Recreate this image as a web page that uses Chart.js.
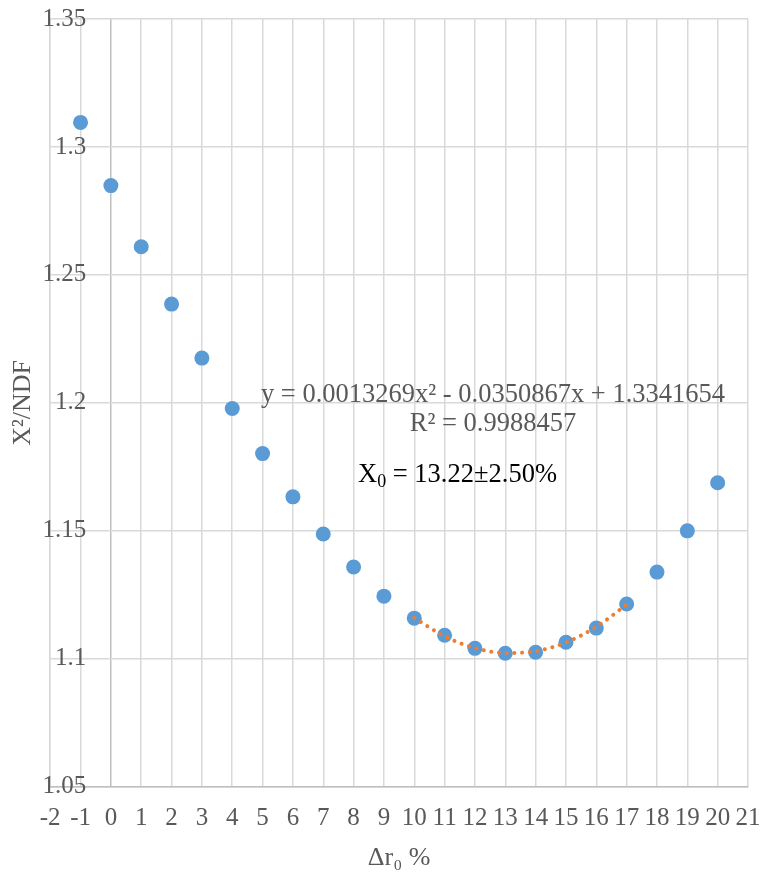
<!DOCTYPE html>
<html>
<head>
<meta charset="utf-8">
<script src="https://cdn.jsdelivr.net/npm/chart.js@4.4.1/dist/chart.umd.min.js"></script>
<style>
  html, body { margin: 0; padding: 0; background: #ffffff; }
  #wrap { width: 763px; height: 874px; }
</style>
</head>
<body>
<div id="wrap"><canvas id="chart"></canvas></div>
<script>
// --- data ---
const xValues = [-1, 0, 1, 2, 3, 4, 5, 6, 7, 8, 9, 10, 11, 12, 13, 14, 15, 16, 17, 18, 19, 20]
const chiValues = [1.3096, 1.2849, 1.2610, 1.2386, 1.2175, 1.1978, 1.1802, 1.1633, 1.1488, 1.1359, 1.1245,
                   1.1159, 1.1092, 1.1041, 1.1022, 1.1026, 1.1065, 1.1120, 1.1214, 1.1339, 1.1500, 1.1688]

// fitted trend line (Excel polynomial, shown from x = 10 to 17)
const trendX = [10, 11, 12, 13, 14, 15, 16, 17]
const trendY = [1.1160, 1.1088, 1.1042, 1.1023, 1.1030, 1.1064, 1.1125, 1.1212]

const xTicks = [-2, -1, 0, 1, 2, 3, 4, 5, 6, 7, 8, 9, 10, 11, 12, 13, 14, 15, 16, 17, 18, 19, 20, 21]
const xTickLabels = ["-2", "-1", "0", "1", "2", "3", "4", "5", "6", "7", "8", "9", "10",
                     "11", "12", "13", "14", "15", "16", "17", "18", "19", "20", "21"]
const yTicks = [1.05, 1.1, 1.15, 1.2, 1.25, 1.3, 1.35]
const yTickLabels = ["1.05", "1.1", "1.15", "1.2", "1.25", "1.3", "1.35"]

const fitText = "y = 0.0013269x\u00B2 - 0.0350867x + 1.3341654"
const r2Text = "R\u00B2 = 0.9988457"
const x0Value = " = 13.22\u00B12.50%"

const serif = "'Liberation Serif', 'Times New Roman', serif"
const gridColor = "#d9d9d9"
const axisColor = "#bfbfbf"
const textColor = "#595959"

// --- y tick labels sit inside the plot, right-aligned left of the x = 0 axis ---
const yLabels = {
    id: "yLabels",
    afterDatasetsDraw(chart) {
        const ctx = chart.ctx
        const y = chart.scales.y
        ctx.save()
        ctx.font = "25px " + serif
        ctx.fillStyle = textColor
        ctx.textAlign = "right"
        ctx.textBaseline = "middle"
        yTicks.forEach((v, i) => {
            ctx.fillText(yTickLabels[i], chart.chartArea.left + 36, y.getPixelForValue(v))
        })
        ctx.restore()
    }
}

// --- text boxes drawn on top of the plot ---
const annotations = {
    id: "annotations",
    afterDraw(chart) {
        const ctx = chart.ctx
        ctx.save()
        ctx.textBaseline = "middle"
        ctx.font = "26.5px " + serif
        ctx.fillStyle = textColor
        ctx.textAlign = "center"
        ctx.fillText(fitText, 493, 395)
        ctx.fillText(r2Text, 493, 424)

        // X0 label with a real subscript
        ctx.fillStyle = "#000000"
        ctx.textAlign = "left"
        let x = 358
        ctx.fillText("X", x, 475)
        x += ctx.measureText("X").width
        ctx.font = "18px " + serif
        ctx.fillText("0", x, 482)
        x += ctx.measureText("0").width
        ctx.font = "26.5px " + serif
        ctx.fillText(x0Value, x, 475)
        ctx.restore()
    }
}

const ctx = document.getElementById("chart")

new Chart(ctx, {
    type: "scatter",
    data: {
        datasets: [
            {
                label: "Trend",
                data: trendX.map((x, i) => ({ x: x, y: trendY[i] })),
                showLine: true,
                borderColor: "#ed7d31",
                borderWidth: 4,
                borderDash: [0.01, 7.7],
                borderCapStyle: "round",
                cubicInterpolationMode: "monotone",
                pointRadius: 0,
                order: 0
            },
            {
                label: "X2/NDF",
                data: xValues.map((x, i) => ({ x: x, y: chiValues[i] })),
                backgroundColor: "#5b9bd5",
                borderWidth: 0,
                pointRadius: 7.5,
                pointHoverRadius: 7.5,
                order: 1
            }
        ]
    },
    options: {
        responsive: true,
        maintainAspectRatio: false,
        animation: false,
        layout: { padding: { top: 19, right: 0, left: 0, bottom: 0 } },
        plugins: {
            legend: { display: false },
            tooltip: { enabled: false }
        },
        scales: {
            x: {
                type: "linear",
                min: -2,
                max: 21,
                afterBuildTicks: (axis) => { axis.ticks = xTicks.map(v => ({ value: v })) },
                ticks: {
                    padding: 2.5,
                    color: textColor,
                    font: { family: serif, size: 25, lineHeight: 2.36 },
                    maxRotation: 0,
                    autoSkip: false,
                    callback: (value) => xTickLabels[xTicks.indexOf(value)]
                },
                grid: {
                    drawTicks: false,
                    lineWidth: 1.5,
                    color: (c) => (c.tick && c.tick.value === 0) ? axisColor : gridColor
                },
                border: { color: axisColor, width: 1.5 },
                title: {
                    display: true,
                    text: "\u0394r\u2080 %",
                    color: textColor,
                    font: { family: serif, size: 26 },
                    padding: { top: -8, bottom: 0 }
                }
            },
            y: {
                type: "linear",
                min: 1.05,
                max: 1.35,
                afterBuildTicks: (axis) => { axis.ticks = yTicks.map(v => ({ value: v })) },
                ticks: { display: false },
                grid: {
                    drawTicks: false,
                    lineWidth: 1.5,
                    color: gridColor
                },
                border: { color: gridColor, width: 1.5 },
                title: {
                    display: true,
                    text: "X\u00B2/NDF",
                    color: textColor,
                    font: { family: serif, size: 26 },
                    padding: { top: 8, bottom: 11 }
                }
            }
        }
    },
    plugins: [yLabels, annotations]
})
</script>
</body>
</html>
